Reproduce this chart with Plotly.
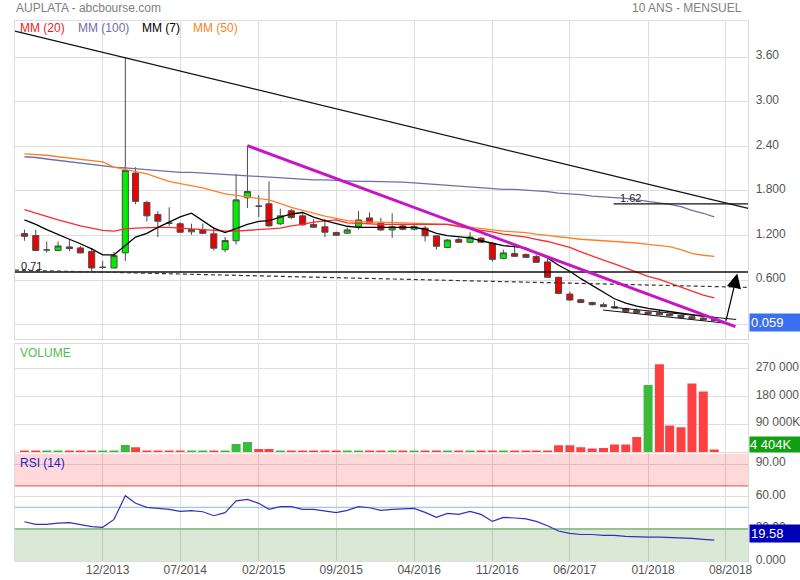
import plotly.graph_objects as go
import pandas as pd

# ---------------- data ----------------
months = pd.date_range("2013-05-01", periods=63, freq="MS")

opens = [1.227, 1.20, 1.007, 1.00, 1.047, 1.034, 0.984, 0.773, 0.764, 0.967,
         2.04, 1.645, 1.483, 1.366, 1.358, 1.25, 1.28, 1.223, 1.01, 1.13,
         1.708, 1.595, 1.627, 1.358, 1.533, 1.465, 1.348, 1.317, 1.24, 1.232,
         1.32, 1.437, 1.366, 1.276, 1.33, 1.285, 1.30, 1.196, 1.04, 1.146,
         1.11, 1.165, 1.096, 0.894, 0.957, 0.944, 0.917, 0.845, 0.638, 0.413,
         0.337, 0.30, 0.27, 0.243, 0.216, 0.19, 0.171, 0.162, 0.144, 0.125,
         0.108, 0.09, 0.071]
highs = [1.28, 1.277, 1.12, 1.12, 1.15, 1.06, 1.034, 0.86, 0.98, 3.59,
         2.12, 1.67, 1.527, 1.58, 1.38, 1.36, 1.36, 1.31, 1.18, 2.03,
         2.41, 1.74, 1.93, 1.56, 1.56, 1.52, 1.42, 1.425, 1.25, 1.31,
         1.53, 1.51, 1.44, 1.50, 1.36, 1.36, 1.33, 1.20, 1.15, 1.17,
         1.245, 1.18, 1.11, 1.01, 1.065, 0.96, 0.944, 0.886, 0.647, 0.445,
         0.35, 0.31, 0.30, 0.32, 0.23, 0.22, 0.18, 0.20, 0.15, 0.13,
         0.115, 0.10, 0.075]
lows = [1.13, 0.99, 0.97, 0.99, 0.99, 0.96, 0.72, 0.75, 0.76, 0.86,
        1.62, 1.39, 1.18, 1.33, 1.24, 1.21, 1.22, 1.00, 0.975, 1.08,
        1.57, 1.45, 1.32, 1.34, 1.42, 1.33, 1.30, 1.177, 1.20, 1.22,
        1.28, 1.36, 1.26, 1.17, 1.27, 1.27, 1.12, 1.01, 1.03, 1.10,
        1.10, 1.10, 0.85, 0.88, 0.91, 0.90, 0.83, 0.63, 0.41, 0.32,
        0.29, 0.26, 0.24, 0.22, 0.17, 0.155, 0.14, 0.13, 0.115, 0.09,
        0.075, 0.06, 0.045]
closes = [1.19, 1.00, 1.007, 1.06, 1.025, 0.967, 0.764, 0.773, 0.93, 2.076,
          1.66, 1.465, 1.393, 1.366, 1.245, 1.28, 1.23, 1.03, 1.133, 1.68,
          1.793, 1.595, 1.33, 1.465, 1.443, 1.344, 1.312, 1.245, 1.204, 1.276,
          1.41, 1.371, 1.276, 1.317, 1.285, 1.32, 1.196, 1.056, 1.14, 1.11,
          1.18, 1.11, 0.88, 0.967, 0.921, 0.907, 0.84, 0.638, 0.422, 0.333,
          0.30, 0.27, 0.243, 0.225, 0.18, 0.162, 0.144, 0.135, 0.121, 0.098,
          0.08, 0.067, 0.059]

mm7 = [1.41, 1.35, 1.28, 1.21, 1.15, 1.09, 1.02, 0.94, 0.94, 1.065,
       1.18, 1.23, 1.31, 1.38, 1.45, 1.50, 1.40, 1.30, 1.24, 1.29,
       1.35, 1.39, 1.40, 1.447, 1.49, 1.51, 1.447, 1.40, 1.357, 1.325,
       1.31, 1.31, 1.31, 1.305, 1.31, 1.31, 1.285, 1.23, 1.20, 1.186,
       1.17, 1.13, 1.10, 1.065, 1.05, 1.03, 0.97, 0.90, 0.80, 0.72,
       0.62, 0.53, 0.44, 0.35, 0.29, 0.25, 0.22, 0.195, 0.175, 0.155,
       0.135, 0.115, 0.10]
mm20 = [1.55, 1.50, 1.46, 1.41, 1.37, 1.33, 1.30, 1.27, 1.26, 1.29,
        1.30, 1.31, 1.31, 1.31, 1.30, 1.29, 1.28, 1.27, 1.26, 1.26,
        1.27, 1.28, 1.28, 1.30, 1.33, 1.35, 1.38, 1.40, 1.41, 1.37,
        1.36, 1.36, 1.35, 1.35, 1.35, 1.35, 1.35, 1.35, 1.35, 1.32,
        1.29, 1.27, 1.25, 1.22, 1.20, 1.18, 1.15, 1.12, 1.08, 1.04,
        0.98, 0.93, 0.87, 0.82, 0.76, 0.71, 0.65, 0.61, 0.56, 0.50,
        0.45, 0.40, 0.36]
mm50 = [2.30, 2.29, 2.28, 2.26, 2.24, 2.22, 2.20, 2.19, 2.12, 2.09,
        2.07, 2.03, 1.98, 1.93, 1.90, 1.87, 1.84, 1.80, 1.76, 1.74,
        1.72, 1.70, 1.68, 1.63, 1.58, 1.54, 1.50, 1.46, 1.43, 1.40,
        1.39, 1.38, 1.38, 1.375, 1.37, 1.37, 1.365, 1.36, 1.35, 1.33,
        1.31, 1.29, 1.27, 1.26, 1.25, 1.24, 1.22, 1.20, 1.19, 1.17,
        1.15, 1.14, 1.13, 1.12, 1.11, 1.10, 1.08, 1.065, 1.05, 1.01,
        0.96, 0.935, 0.92]
mm100 = [2.26, 2.25, 2.23, 2.21, 2.19, 2.17, 2.15, 2.13, 2.12, 2.11,
         2.10, 2.09, 2.08, 2.06, 2.05, 2.05, 2.04, 2.03, 2.02, 2.01,
         2.00, 1.99, 1.99, 1.98, 1.97, 1.96, 1.95, 1.95, 1.94, 1.93,
         1.93, 1.93, 1.93, 1.92, 1.92, 1.91, 1.90, 1.89, 1.88, 1.87,
         1.85, 1.84, 1.83, 1.82, 1.82, 1.81, 1.80, 1.79, 1.77, 1.76,
         1.75, 1.73, 1.72, 1.71, 1.70, 1.68, 1.66, 1.64, 1.62, 1.59,
         1.54, 1.50, 1.45]

volumes = [3000, 3000, 2500, 2500, 3000, 3000, 3000, 2000, 4000, 22700,
           15300, 4000, 4000, 4000, 2500, 2000, 2000, 2500, 2500, 26000,
           32500, 9700, 9700, 5000, 2500, 2500, 2500, 3500, 3500, 3500,
           3500, 2500, 2500, 3500, 2500, 2500, 3000, 4000, 3000, 3000,
           2500, 2500, 4000, 2500, 2500, 2500, 3000, 4000, 21800, 21800,
           15300, 11000, 13000, 24000, 24000, 48700, 217700, 285000, 85800, 80250,
           222000, 196000, 8000]
vol_up = [0, 0, 1, 1, 0, 0, 0, 1, 1, 1,
          0, 0, 0, 0, 0, 1, 1, 0, 1, 1,
          1, 0, 0, 1, 0, 0, 0, 0, 0, 1,
          1, 0, 0, 1, 0, 1, 0, 0, 1, 0,
          1, 0, 0, 1, 0, 0, 0, 0, 0, 0,
          0, 0, 0, 0, 0, 0, 1, 0, 0, 0,
          0, 0, 0]

rsi = [36.7, 34.3, 34.3, 35.5, 35.8, 34.3, 32.1, 31.5, 38.9, 60.9,
       53.8, 50.1, 49.1, 48.2, 46.3, 47.0, 46.0, 42.3, 45.1, 56.0,
       57.5, 53.8, 48.2, 50.7, 50.7, 48.2, 48.2, 46.3, 45.1, 47.3,
       50.7, 49.7, 47.3, 48.2, 48.5, 49.1, 45.4, 40.8, 44.5, 43.5,
       46.3, 43.5, 37.0, 40.8, 40.2, 39.3, 37.0, 33.0, 28.1, 25.9,
       24.9, 24.9, 24.0, 24.0, 23.1, 22.5, 22.5, 22.5, 22.2, 21.2,
       21.2, 20.3, 19.58]

tick_dates = ["2013-12-01", "2014-07-01", "2015-02-01", "2015-09-01", "2016-04-01",
              "2016-11-01", "2017-06-01", "2018-01-01", "2018-08-01"]
tick_labels = ["12/2013", "07/2014", "02/2015", "09/2015", "04/2016",
               "11/2016", "06/2017", "01/2018", "08/2018"]
price_ticks = [0, 0.6, 1.2, 1.8, 2.4, 3.0, 3.6]
price_tick_labels = ["", "0.600", "1.200", "1.800", "2.40", "3.00", "3.60"]
vol_ticks = [90000, 180000, 270000]
vol_tick_labels = ["90 000K", "180 000", "270 000"]
rsi_ticks = [0, 30, 60, 90]
rsi_tick_labels = ["0.000", "30.00", "60.00", "90.00"]

x_range = ["2013-04-05", "2018-10-02"]

# drawn analysis lines (end points)
long_trend_x = ["2013-04-05", "2018-10-02"]
long_trend_y = [3.95, 1.565]
magenta_x = ["2015-01-01", "2018-08-28"]
magenta_y = [2.41, -0.025]
support_x = ["2013-04-05", "2018-10-02"]
support_y = [0.71, 0.71]
dashed_x = ["2013-04-05", "2018-10-02"]
dashed_y = [0.735, 0.503]
res_x = ["2017-09-29", "2018-10-02"]
res_y = [1.625, 1.625]
wedge_low_x = ["2017-08-31", "2018-07-29"]
wedge_low_y = [0.198, 0.023]
wedge_up_x = ["2017-09-29", "2018-08-30"]
wedge_up_y = [0.233, 0.071]
arrow_tail = ("2018-08-01", 0.031)
arrow_tip = ("2018-09-02", 0.688)

# ---------------- figure ----------------
W, H = 800, 580
KY = 1.012   # the photographed page comes out slightly squeezed vertically
def px(p):
    return p / W
def py(p):
    return (H - p * KY) / H

FONT = "Liberation Sans, Arial, sans-serif"
GRID = "#dddddd"

fig = go.Figure()

fig.add_trace(go.Candlestick(
    x=months, open=opens, high=highs, low=lows, close=closes,
    increasing=dict(fillcolor="#00ee00", line=dict(color="#4a4a4a", width=1)),
    decreasing=dict(fillcolor="#ee0000", line=dict(color="#4a4a4a", width=1)),
    whiskerwidth=0, showlegend=False, hoverinfo="skip", xaxis="x", yaxis="y"))

for vals, col in [(mm100, "#6e6ea8"), (mm50, "#ff7f27"), (mm20, "#ff2a2a"), (mm7, "#000000")]:
    fig.add_trace(go.Scatter(x=months, y=vals, mode="lines",
                             line=dict(color=col, width=1.3),
                             showlegend=False, hoverinfo="skip", xaxis="x", yaxis="y"))

def seg(xs, ys, color, width, dash=None):
    fig.add_trace(go.Scatter(x=xs, y=ys, mode="lines",
                             line=dict(color=color, width=width, dash=dash),
                             showlegend=False, hoverinfo="skip", xaxis="x", yaxis="y"))

seg(long_trend_x, long_trend_y, "#111111", 1.3)
seg(support_x, support_y, "#111111", 1.3)
seg(dashed_x, dashed_y, "#333333", 1.2, "4px,3px")
seg(res_x, res_y, "#111111", 1.3)
seg(wedge_low_x, wedge_low_y, "#111111", 1.0)
seg(wedge_up_x, wedge_up_y, "#111111", 1.0)
seg(magenta_x, magenta_y, "#c814c8", 3)

fig.add_trace(go.Bar(
    x=months, y=volumes,
    marker=dict(color=["#3cba3c" if u else "#ff4040" for u in vol_up], line=dict(width=0)),
    showlegend=False, hoverinfo="skip", xaxis="x2", yaxis="y2"))

fig.add_trace(go.Scatter(x=months, y=rsi, mode="lines",
                         line=dict(color="#3030c0", width=1.2),
                         showlegend=False, hoverinfo="skip", xaxis="x3", yaxis="y3"))

x_dom = [px(15), px(752)]
common_x = dict(domain=x_dom, range=x_range, type="date", tickvals=tick_dates,
                ticktext=tick_labels, showgrid=True, gridcolor=GRID, gridwidth=1,
                showline=True, mirror=True, linecolor=GRID, linewidth=1,
                ticks="", zeroline=False, fixedrange=True)
common_y = dict(side="right", showgrid=True, gridcolor=GRID, gridwidth=1,
                showline=True, mirror=True, linecolor=GRID, linewidth=1,
                ticks="", zeroline=False, ticklabelstandoff=4, ticklabelshift=-2,
                tickfont=dict(family=FONT, size=12, color="#555555"), fixedrange=True)

fig.update_layout(
    width=W, height=H, margin=dict(l=0, r=0, t=0, b=0),
    paper_bgcolor="white", plot_bgcolor="white",
    font=dict(family=FONT, size=12, color="#555555"),
    showlegend=False, hovermode=False, bargap=0.12, boxgap=0.15,
    xaxis=dict(common_x, anchor="y", showticklabels=False, rangeslider=dict(visible=False)),
    xaxis2=dict(common_x, anchor="y2", showticklabels=False, matches="x"),
    xaxis3=dict(common_x, anchor="y3", showticklabels=True, matches="x",
                ticklabelshift=5, ticklabelstandoff=-3,
                tickfont=dict(family=FONT, size=12, color="#555555")),
    yaxis=dict(common_y, anchor="x", domain=[py(338), py(20.5)], range=[-0.193, 4.092],
               tickvals=price_ticks, ticktext=price_tick_labels),
    yaxis2=dict(common_y, anchor="x2", domain=[py(450.5), py(343.3)], range=[0, 349000],
                tickvals=vol_ticks, ticktext=vol_tick_labels),
    yaxis3=dict(common_y, anchor="x3", domain=[py(559.5), py(452)], range=[0, 100],
                tickvals=rsi_ticks, ticktext=rsi_tick_labels),
)

# RSI zones and levels
fig.add_shape(type="rect", xref="x3", yref="y3", x0=x_range[0], x1=x_range[1], y0=70, y1=100,
              fillcolor="rgba(255,0,0,0.15)", line=dict(width=0), layer="between")
fig.add_shape(type="rect", xref="x3", yref="y3", x0=x_range[0], x1=x_range[1], y0=0, y1=30,
              fillcolor="rgba(20,120,0,0.16)", line=dict(width=0), layer="between")
for lvl, col in [(70, "#e86666"), (50, "#9cc8f4"), (30, "#48a848")]:
    fig.add_shape(type="line", xref="x3", yref="y3", x0=x_range[0], x1=x_range[1],
                  y0=lvl, y1=lvl, line=dict(color=col, width=1.2), layer="between")

ann = []
def text(x, y, s, color, size=12, xanchor="left", **kw):
    ann.append(dict(x=x, y=y, xref="paper", yref="paper", text=s, showarrow=False,
                    xanchor=xanchor, yanchor="middle",
                    font=dict(family=FONT, size=size, color=color), **kw))

text(px(14), py(8), "AUPLATA - abcbourse.com", "#808080")
text(px(748), py(8), "10 ANS - MENSUEL", "#808080", xanchor="right")
text(px(18), py(28), "MM (20)", "#ee1c1c")
text(px(76), py(28), "MM (100)", "#6e6ea8")
text(px(141), py(28), "MM (7)", "#000000")
text(px(192), py(28), "MM (50)", "#ff7f27")
text(px(18), py(351.5), "VOLUME", "#55bb55")
text(px(18), py(461), "RSI (14)", "#1a1acc")
text(px(19), py(265.5), "0.71", "#222222", size=11)
text(px(621), py(197), "1.62", "#222222", size=11)

# value boxes on the right axis
text(px(753), py(321.7), "0.059", "#ffffff", size=13, bgcolor="#3a6ff0", borderpad=1,
     width=60, align="left")
text(px(753), py(443.3), "4 404K", "#ffffff", size=13, bgcolor="#12a012", borderpad=0,
     width=60, align="left")
text(px(753), py(531.5), "19.58", "#ffffff", size=13, bgcolor="#0000b8", borderpad=1,
     width=60, align="left")

# breakout arrow
ann.append(dict(x=arrow_tip[0], y=arrow_tip[1], xref="x", yref="y",
                ax=arrow_tail[0], ay=arrow_tail[1], axref="x", ayref="y",
                text="", showarrow=True, arrowhead=2, arrowsize=2.4, arrowwidth=1.2,
                arrowcolor="#000000", standoff=0))

fig.update_layout(annotations=ann)

# the page body otherwise keeps the browser's default 8px margin
fig.write_html("out.html", config={"displayModeBar": False},
               post_script="document.body.style.margin='0';")
